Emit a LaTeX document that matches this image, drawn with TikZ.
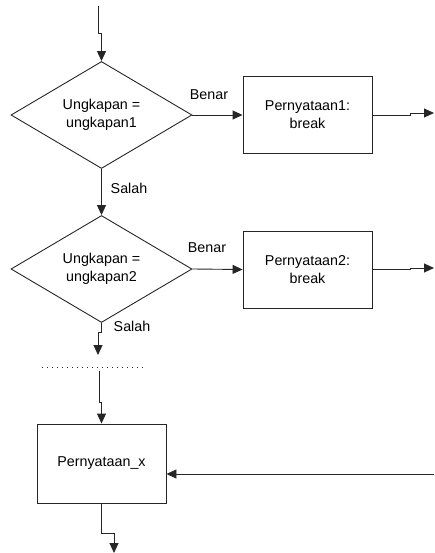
\documentclass[tikz,border=0pt]{standalone}
\usepackage{fontspec}
\setmainfont{Liberation Sans}
\usetikzlibrary{shapes.geometric,arrows.meta}
\begin{document}
\begin{tikzpicture}[x=1pt,y=-1pt,
  every node/.style={font=\fontsize{14.3}{18}\selectfont},
  line/.style={line width=0.9pt, draw=black!85},
  arr/.style={line, -{Triangle[length=10pt,width=9pt]}},
  decision/.style={diamond, line, aspect=1.7, inner sep=0pt,
    minimum width=181pt, minimum height=107pt, align=center},
  stmt/.style={rectangle, line, inner sep=0pt,
    minimum width=129pt, minimum height=77pt, align=center},
  lbl/.style={inner sep=0pt}]
\useasboundingbox (0,0) rectangle (434,553);

% decisions and statements
\node[decision] (d1) at (101.5,115) {Ungkapan =\\ungkapan1};
\node[decision] (d2) at (101.5,269) {Ungkapan =\\ungkapan2};
\node[stmt] (b1) at (307.5,115) {Pernyataan1:\\break};
\node[stmt] (b2) at (307.5,269.5) {Pernyataan2:\\break};
\node[stmt, minimum height=79pt] (b3) at (101.5,463.5) {Pernyataan\_x};

% free ends
\coordinate (in) at (98,6);
\coordinate (exit1) at (434,113);
\coordinate (exit2) at (434,268);
\coordinate (more) at (98,355);
\coordinate (dotl) at (42,367);
\coordinate (dotr) at (146,367);
\coordinate (cont) at (99,371);
\coordinate (back) at (434,474);
\coordinate (out) at (114,553);

% connectors
\draw[arr] (in) -- ++(0,27) -| (d1.north);
\draw[arr] (d1.east) -- (b1.west);
\draw[arr] (b1.east) -- ++(38,0) |- (exit1);
\draw[arr] (d1.south) -- (d2.north);
\draw[arr] (d2.east) -- (b2.west);
\draw[arr] (b2.east) -- ++(38,0) |- (exit2);
\draw[arr] (d2.south) -- ++(0,9) -| (more);
\draw[line, line width=0.7pt, dash pattern=on 1pt off 4pt] (dotl) -- (dotr);
\draw[arr] (cont) -- ++(0,31) -| (b3.north);
\draw[arr] (back) -- (back -| b3.east);
\draw[arr] (b3.south) -- ++(0,30) -| (out);

% branch labels
\node[lbl] (t1) at (209,95) {Benar};
\node[lbl] (f1) at (129,188) {Salah};
\node[lbl] (t2) at (207,248) {Benar};
\node[lbl] (f2) at (132,326) {Salah};
\end{tikzpicture}
\end{document}
